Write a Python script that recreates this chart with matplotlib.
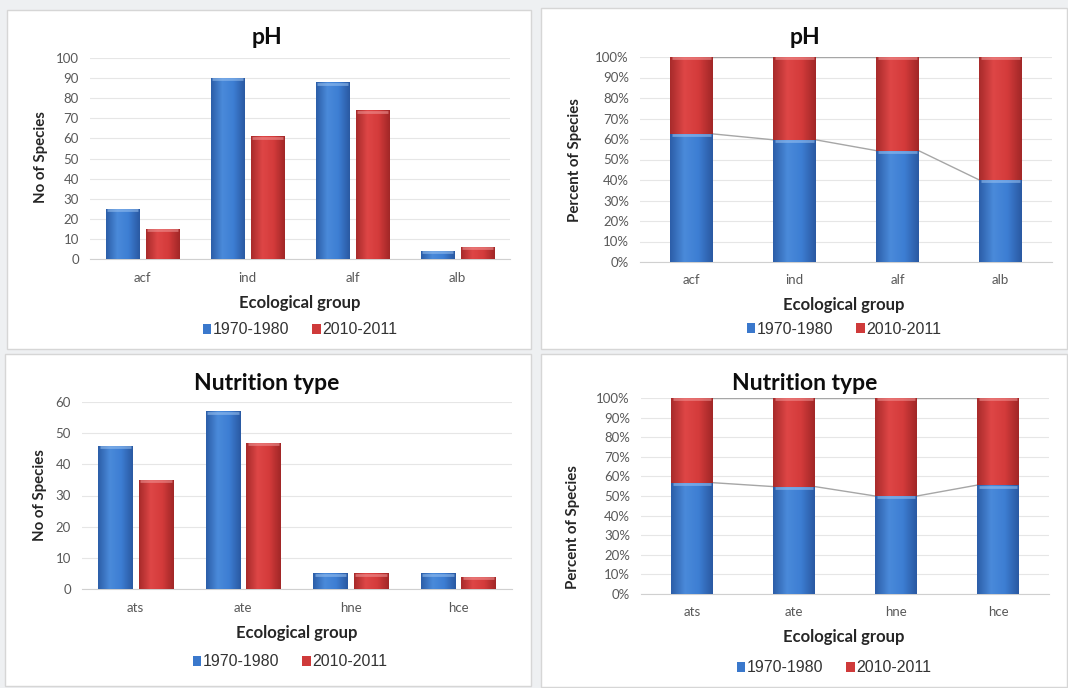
import matplotlib
matplotlib.use("Agg")
import matplotlib.pyplot as plt
import matplotlib.transforms as mtransforms
import numpy as np
from matplotlib.patches import Rectangle, Patch
from matplotlib.colors import LinearSegmentedColormap

# data
ph_groups = ["acf", "ind", "alf", "alb"]
ph_old = [25, 90, 88, 4]
ph_new = [15, 61, 74, 6]

nut_groups = ["ats", "ate", "hne", "hce"]
nut_old = [46, 57, 5, 5]
nut_new = [35, 47, 5, 4]

series = ["1970-1980", "2010-2011"]

W, H = 1068, 688
fig = plt.figure(figsize=(W / 100, H / 100), dpi=100)
fig.patch.set_facecolor("#eef0f2")

blue_cm = LinearSegmentedColormap.from_list("b", ["#2c5ea8", "#4a8ada", "#3d7ed3", "#2a59a2"])
red_cm = LinearSegmentedColormap.from_list("r", ["#a82b2b", "#de4646", "#d43b3b", "#a12727"])
BLUE, RED = "#3a78cc", "#cf3a3a"
TXT = "#595959"


def fx(x):
    return x / W


def fy(y):
    return 1 - y / H


def px_axes(x0, y0, x1, y1):
    ax = fig.add_axes([fx(x0), fy(y1), (x1 - x0) / W, (y1 - y0) / H])
    ax.set_zorder(2)
    ax.patch.set_alpha(0)
    return ax


def panel(x0, y0, x1, y1):
    fig.patches.append(Rectangle((fx(x0), fy(y1)), (x1 - x0) / W, (y1 - y0) / H,
                                 transform=fig.transFigure, facecolor="white",
                                 edgecolor="#d6d6d6", lw=1, zorder=-1))


def shade(ax, bars, cm, top_col):
    grad = np.linspace(0, 1, 64).reshape(1, -1)
    down = mtransforms.offset_copy(ax.transData, fig=fig, y=-1.0, units="points")
    for b in bars:
        x, y = b.get_x(), b.get_y()
        w, h = b.get_width(), b.get_height()
        if h <= 0:
            continue
        im = ax.imshow(grad, cmap=cm, aspect="auto", extent=[x, x + w, y, y + h],
                       zorder=3, interpolation="bicubic")
        im.set_clip_path(b)
        ax.plot([x + w * 0.04, x + w * 0.96], [y + h, y + h], color=top_col,
                lw=2.0, alpha=0.55, transform=down, zorder=4, solid_capstyle="butt")


def style(ax, ylabel, cats, ylab_xy, xlab_xy, leg_xy):
    ax.set_xlim(-0.5, 3.5)
    ax.set_xticks(range(4))
    ax.set_xticklabels(cats)
    for s in ["top", "right", "left"]:
        ax.spines[s].set_visible(False)
    ax.spines["bottom"].set_color("#d0d0d0")
    ax.tick_params(axis="x", length=0, labelsize=9.5, colors=TXT, pad=9)
    ax.tick_params(axis="y", length=0, labelsize=9.5, colors=TXT, pad=8)
    ax.grid(axis="y", color="#e6e6e6", lw=0.8)
    ax.set_axisbelow(True)
    for t in ax.get_xticklabels() + ax.get_yticklabels():
        t.set_family("Lato")
    # axis titles placed in figure pixels
    fig.text(fx(ylab_xy[0]), fy(ylab_xy[1]), ylabel, rotation=90, ha="center",
             va="center", fontsize=10.8, fontweight="bold", family="Lato", color="#262626")
    fig.text(fx(xlab_xy[0]), fy(xlab_xy[1]), "Ecological group", ha="center",
             va="center", fontsize=12, fontweight="bold", family="Lato", color="#262626")
    handles = [Patch(facecolor=BLUE, edgecolor="none", label=series[0]),
               Patch(facecolor=RED, edgecolor="none", label=series[1])]
    leg = fig.legend(handles=handles, loc="center", bbox_to_anchor=(fx(leg_xy[0]), fy(leg_xy[1])),
                     ncol=2, frameon=False, handlelength=0.55, handleheight=0.55,
                     handletextpad=0.1, columnspacing=1.4, borderpad=0,
                     prop={"family": "Liberation Sans", "size": 11.5})
    for t in leg.get_texts():
        t.set_color("#333333")


def title(x, y, s):
    fig.text(fx(x), fy(y), s, ha="center", va="center", fontsize=16.5,
             fontweight="bold", family="Lato", color="#0d0d0d")


def counts(ax, cats, old, new, ymax, step):
    x = np.arange(len(cats))
    w = 0.32
    b1 = ax.bar(x - 0.19, old, w, color=BLUE, zorder=2)
    b2 = ax.bar(x + 0.19, new, w, color=RED, zorder=2)
    ax.set_ylim(0, ymax)
    ax.set_yticks(np.arange(0, ymax + 1, step))
    shade(ax, b1, blue_cm, "#9cc4f2")
    shade(ax, b2, red_cm, "#f29a9a")


def percent(ax, cats, old, new):
    old = np.array(old, float)
    new = np.array(new, float)
    p_old = old / (old + new) * 100
    p_new = 100 - p_old
    x = np.arange(len(cats))
    w = 0.41
    b1 = ax.bar(x, p_old, w, color=BLUE, zorder=2)
    b2 = ax.bar(x, p_new, w, bottom=p_old, color=RED, zorder=2)
    shade(ax, b1, blue_cm, "#9cc4f2")
    shade(ax, b2, red_cm, "#f29a9a")
    for i in range(len(cats) - 1):
        ax.plot([x[i] + w / 2, x[i + 1] - w / 2], [p_old[i], p_old[i + 1]],
                color="#a6a6a6", lw=1, zorder=1)
        ax.plot([x[i] + w / 2, x[i + 1] - w / 2], [100, 100],
                color="#a6a6a6", lw=1, zorder=1)
    ax.set_ylim(0, 100)
    ax.set_yticks(np.arange(0, 101, 10))
    ax.set_yticklabels([f"{v}%" for v in range(0, 101, 10)])


panel(7, 10, 531, 349)
panel(541, 8, 1067, 349)
panel(5, 354, 531, 686)
panel(541, 354, 1067, 687)

ax1 = px_axes(90, 58, 510, 259)
counts(ax1, ph_groups, ph_old, ph_new, 100, 10)
style(ax1, "No of Species", ph_groups, (41, 157), (300, 303), (300, 330))
title(267, 38, "pH")

ax2 = px_axes(640, 57, 1052, 262)
percent(ax2, ph_groups, ph_old, ph_new)
style(ax2, "Percent of Species", ph_groups, (575, 160), (844, 305), (844, 329))
title(805, 37, "pH")

ax3 = px_axes(82, 402, 512, 589)
counts(ax3, nut_groups, nut_old, nut_new, 60, 10)
style(ax3, "No of Species", nut_groups, (40, 495), (297, 633), (290, 662))
title(267, 383, "Nutrition type")

ax4 = px_axes(641, 398, 1049, 594)
percent(ax4, nut_groups, nut_old, nut_new)
style(ax4, "Percent of Species", nut_groups, (573, 527), (844, 637), (834, 668))
title(805, 383, "Nutrition type")

fig.savefig("out.png", dpi=100, facecolor=fig.get_facecolor())
